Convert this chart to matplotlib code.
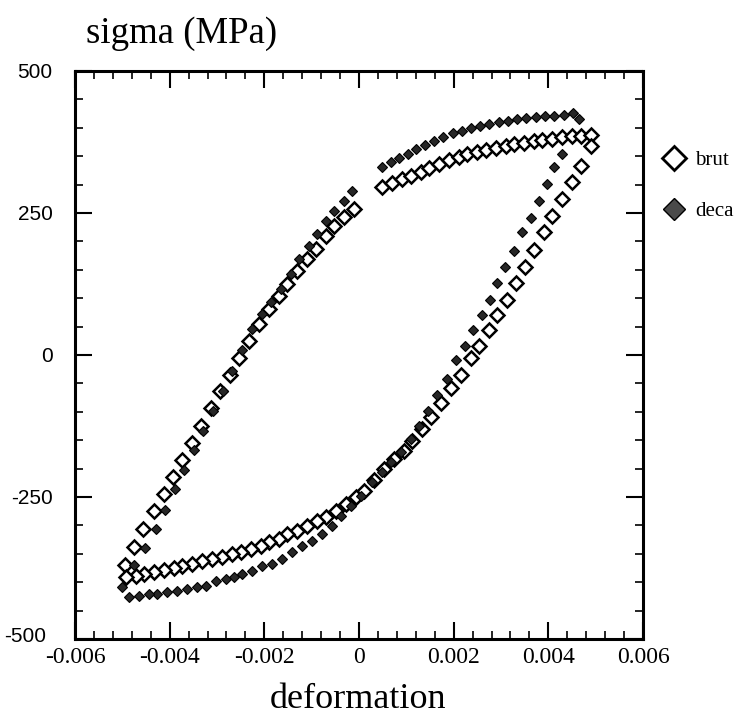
import matplotlib.pyplot as plt
from matplotlib.lines import Line2D
from matplotlib.ticker import MultipleLocator
from matplotlib.transforms import ScaledTranslation

# brut : branche montante (gauche) + palier haut
brut_mont_eps = [-0.00495, -0.00476, -0.00457, -0.00434, -0.00413, -0.00393, -0.00373, -0.00353, -0.00333,
                 -0.00313, -0.00293, -0.00273, -0.00253, -0.00233, -0.00211, -0.00190, -0.00169, -0.00152,
                 -0.00131, -0.00110, -0.00091, -0.00070, -0.00053, -0.00032, -0.00011,
                 0.00049, 0.00070, 0.00091, 0.00110, 0.00131, 0.00148, 0.00169, 0.00190, 0.00211, 0.00228,
                 0.00249, 0.00268, 0.00290, 0.00311, 0.00328, 0.00349, 0.00370, 0.00387, 0.00408, 0.00429,
                 0.00450, 0.00469, 0.00490]
brut_mont_sig = [-370, -338, -306, -275, -244, -214, -184, -155, -125, -94, -64, -36, -6, 25, 55, 81, 104, 125,
                 148, 169, 187, 210, 227, 243, 257,
                 296, 302, 309, 316, 323, 330, 337, 343, 348, 353, 357, 361, 365, 368, 371, 374, 377, 379, 381,
                 383, 385, 386, 388]

# brut : branche descendante (droite) + palier bas
brut_desc_eps = [0.00490, 0.00469, 0.00450, 0.00429, 0.00408, 0.00391, 0.00370, 0.00351, 0.00332, 0.00313,
                 0.00292, 0.00275, 0.00254, 0.00237, 0.00216, 0.00195, 0.00173, 0.00152, 0.00133, 0.00112,
                 0.00095, 0.00074, 0.00053, 0.00032, 0.00011, -0.00006, -0.00027, -0.00049, -0.00070, -0.00089,
                 -0.00110, -0.00131, -0.00152, -0.00169, -0.00190, -0.00207, -0.00228, -0.00249, -0.00268,
                 -0.00290, -0.00311, -0.00332, -0.00353, -0.00374, -0.00391, -0.00412, -0.00433, -0.00455,
                 -0.00471, -0.00493]
brut_desc_sig = [368, 333, 305, 275, 245, 217, 185, 155, 127, 97, 70, 44, 16, -5, -35, -58, -85, -109, -130,
                 -151, -169, -183, -201, -220, -239, -250, -262, -275, -285, -292, -301, -310, -315, -324, -329,
                 -336, -342, -347, -350, -356, -359, -363, -368, -371, -375, -379, -382, -386, -389, -391]

# deca : branche montante + palier haut
deca_mont_eps = [-0.00501, -0.00476, -0.00452, -0.00429, -0.00410, -0.00389, -0.00369, -0.00349, -0.00329,
                 -0.00309, -0.00288, -0.00268, -0.00247, -0.00226, -0.00205, -0.00186, -0.00165, -0.00144,
                 -0.00127, -0.00106, -0.00089, -0.00070, -0.00053, -0.00032, -0.00015,
                 0.00049, 0.00067, 0.00085, 0.00103, 0.00121, 0.00140, 0.00159, 0.00178, 0.00198, 0.00217,
                 0.00237, 0.00256, 0.00275, 0.00295, 0.00314, 0.00334, 0.00353, 0.00373, 0.00393, 0.00413,
                 0.00433, 0.00453]
deca_mont_sig = [-408, -370, -340, -306, -273, -236, -203, -168, -133, -99, -64, -29, 8, 46, 72, 93, 116, 143,
                 169, 192, 213, 236, 254, 271, 289,
                 331, 339, 346, 353, 362, 370, 377, 384, 390, 395, 399, 403, 407, 410, 412, 415, 417, 419, 420,
                 421, 423, 426]

# deca : branche descendante + palier bas
deca_desc_eps = [0.00465, 0.00429, 0.00412, 0.00397, 0.00381, 0.00364, 0.00345, 0.00328, 0.00309, 0.00292,
                 0.00277, 0.00260, 0.00241, 0.00224, 0.00205, 0.00186, 0.00165, 0.00146, 0.00127, 0.00110,
                 0.00089, 0.00068, 0.00049, 0.00027, 0.00004, -0.00017, -0.00038, -0.00057, -0.00078, -0.00099,
                 -0.00120, -0.00142, -0.00163, -0.00184, -0.00205, -0.00226, -0.00247, -0.00264, -0.00281,
                 -0.00302, -0.00323, -0.00342, -0.00364, -0.00385, -0.00406, -0.00427, -0.00444, -0.00465,
                 -0.00486]
deca_desc_sig = [415, 354, 331, 301, 271, 241, 217, 183, 155, 127, 97, 70, 44, 16, -9, -42, -70, -99, -125,
                 -148, -171, -188, -206, -224, -248, -266, -283, -301, -315, -327, -336, -347, -359, -368, -371,
                 -380, -386, -391, -394, -398, -407, -408, -412, -415, -417, -421, -421, -424, -426]

x_ticks = [-0.006, -0.004, -0.002, 0, 0.002, 0.004, 0.006]
x_labels = ['-0.006', '-0.004', '-0.002', '0', '0.002', '0.004', '0.006']
y_ticks = [-500, -250, 0, 250, 500]
y_labels = ['-500', '-250', '0', '250', '500']

serif = ['Liberation Serif', 'DejaVu Serif']
sans = ['Liberation Sans', 'DejaVu Sans']

fig = plt.figure(figsize=(7.44, 7.26), dpi=100)
ax = fig.add_axes([75 / 744, 87 / 726, 568 / 744, 568 / 726])

brut_style = dict(linestyle='none', marker='D', markersize=7.5, markerfacecolor='white',
                  markeredgecolor='black', markeredgewidth=1.8)
deca_style = dict(linestyle='none', marker='D', markersize=5.5, markerfacecolor='#262626',
                  markeredgecolor='black', markeredgewidth=0.8)

ax.plot(brut_mont_eps, brut_mont_sig, **brut_style)
ax.plot(brut_desc_eps, brut_desc_sig, **brut_style)
ax.plot(deca_mont_eps, deca_mont_sig, **deca_style)
ax.plot(deca_desc_eps, deca_desc_sig, **deca_style)

ax.set_xlim(-0.006, 0.006)
ax.set_ylim(-500, 500)
ax.set_xticks(x_ticks)
ax.set_xticklabels(x_labels, family=serif, fontsize=17)
ax.set_yticks(y_ticks)
ax.set_yticklabels(y_labels, family=sans, fontsize=15)
ax.xaxis.set_minor_locator(MultipleLocator(0.0004))
ax.yaxis.set_minor_locator(MultipleLocator(50))
ax.tick_params(which='major', direction='in', length=12, width=1.5, top=True, right=True)
ax.tick_params(which='minor', direction='in', length=5.5, width=1.2, top=True, right=True)
ax.tick_params(axis='x', which='major', pad=6)
ax.tick_params(axis='y', which='major', pad=16)
for s in ax.spines.values():
    s.set_linewidth(2.2)

# le -500 est decale pour ne pas toucher le -0.006
lab = ax.get_yticklabels()[0]
lab.set_transform(lab.get_transform() + ScaledTranslation(-5 / 72, 3 / 72, fig.dpi_scale_trans))

fig.text(86 / 744, 1 - 34 / 726, 'sigma (MPa)', family=serif, fontsize=26.5, va='center', ha='left')
fig.text(358 / 744, 1 - 700 / 726, 'deformation', family=serif, fontsize=26, va='center', ha='center')

handles = [Line2D([], [], linestyle='none', marker='D', markersize=12, markerfacecolor='white',
                  markeredgecolor='black', markeredgewidth=2),
           Line2D([], [], linestyle='none', marker='D', markersize=11, markerfacecolor='#4a4a4a',
                  markeredgecolor='black', markeredgewidth=1)]
fig.legend(handles, ['brut', 'deca'], loc='upper left', bbox_to_anchor=(643 / 744, 1 - 132 / 726),
           frameon=False, prop={'family': serif, 'size': 15}, labelspacing=1.5,
           handletextpad=0.4, handlelength=1.2)

fig.savefig('out.png', dpi=100)
